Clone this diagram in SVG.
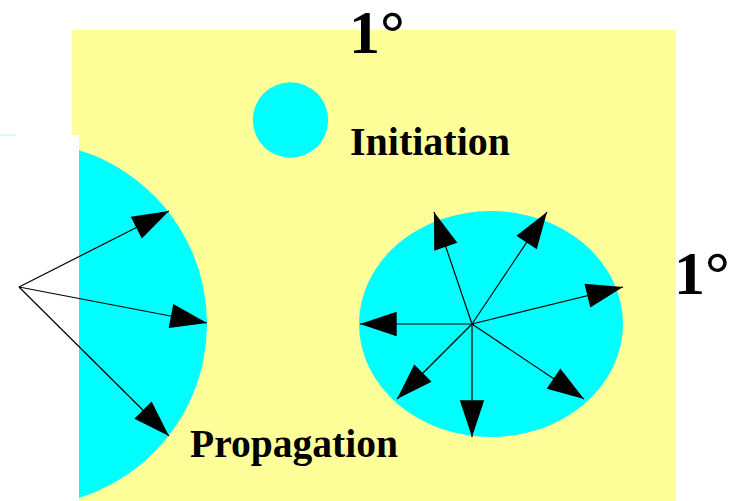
<svg xmlns="http://www.w3.org/2000/svg" width="730" height="501" viewBox="0 0 730 501">
<style>
.lbl{font-family:"Liberation Serif","Times New Roman",serif;font-weight:bold;fill:#000}
.ar{stroke:#000;stroke-width:1.2;fill:none;marker-end:url(#ah)}
.cy{fill:#00FFFF}
</style>
<defs>
<marker id="ah" markerUnits="userSpaceOnUse" markerWidth="40" markerHeight="30" viewBox="-34 -12 36 24" refX="0" refY="0" orient="auto" overflow="visible">
<path d="M0,0 L-33,-11 L-33,11 Z" fill="#000"/>
</marker>
<clipPath id="lc"><rect x="79" y="135" width="200" height="366"/></clipPath>
</defs>
<rect width="730" height="501" fill="#fff"/>
<g id="background">
<rect x="72" y="30" width="604" height="471" fill="#FFFF99"/>
<rect x="0" y="135" width="79" height="366" fill="#fff"/>
<rect x="0" y="134.5" width="16" height="1" fill="#00FFFF" opacity="0.35"/>
</g>
<g id="initiation-node">
<circle class="cy" cx="290.5" cy="120" r="37.7"/>
</g>
<g id="propagation-node">
<circle class="cy" cx="25" cy="324" r="182" clip-path="url(#lc)"/>
</g>
<g id="spread-node">
<ellipse class="cy" cx="491" cy="324" rx="132" ry="113"/>
</g>
<g id="connectors">
<line class="ar" x1="19" y1="287" x2="169" y2="211"/>
<line class="ar" x1="19" y1="287" x2="207" y2="323"/>
<line class="ar" x1="19" y1="287" x2="169" y2="436"/>
<line class="ar" x1="472" y1="324" x2="434" y2="212"/>
<line class="ar" x1="472" y1="324" x2="547" y2="212"/>
<line class="ar" x1="472" y1="324" x2="623" y2="287"/>
<line class="ar" x1="472" y1="324" x2="360" y2="324"/>
<line class="ar" x1="472" y1="324" x2="397" y2="399"/>
<line class="ar" x1="472" y1="324" x2="472" y2="437"/>
<line class="ar" x1="472" y1="324" x2="584" y2="399"/>
</g>
<g id="labels">
<text class="lbl" x="349" y="53" font-size="62">1°</text>
<text class="lbl" x="674" y="294" font-size="62">1°</text>
<text class="lbl" x="350" y="155" font-size="40">Initiation</text>
<text class="lbl" x="190" y="457" font-size="40" textLength="208" lengthAdjust="spacingAndGlyphs">Propagation</text>
</g>
</svg>
